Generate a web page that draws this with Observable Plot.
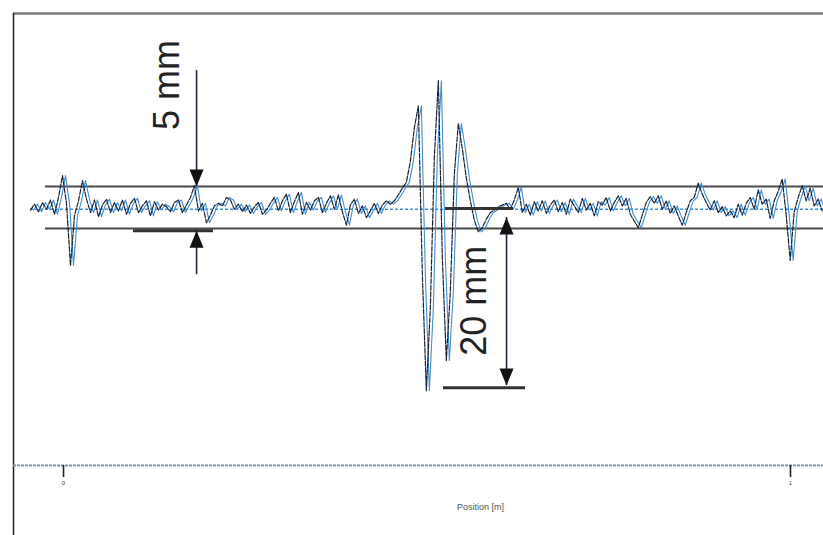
<!DOCTYPE html>
<html>
<head>
<meta charset="utf-8">
<script src="https://cdn.jsdelivr.net/npm/d3@7"></script>
<script src="https://cdn.jsdelivr.net/npm/@observablehq/plot@0.6"></script>
<style>
  html, body { margin: 0; padding: 0; background: #fff; }
  svg { display: block; }
</style>
</head>
<body>
<div id="chart"></div>
<script>
// ---- data (position in m, deviation in mm) ----
const sampleStart = -0.0454;   // m, first sample
const sampleStep = 0.0055;     // m, sample spacing
const deviation = [
  -0.3, 0.4, -0.5, 0.6, -0.2, 0.9, -0.8, 1.2, 3.8, 0.5,
  -6.9, -1.0, 0.8, 3.2, 1.0, -0.6, 0.9, -1.1, 0.3, 1.0,
  -0.6, 0.6, -0.4, 0.9, -0.8, 0.5, 1.1, -0.6, 0.2, 0.8,
  -1.0, 0.7, -0.3, 0.4, 0.1, -0.5, 0.6, 0.9, -0.6, 0.3,
  1.2, 2.6, -0.4, 0.5, -1.8, -0.9, 0.2, 0.5, 0.2, 1.2,
  0.9, -0.2, 0.4, -0.5, 0.3, -0.7, 0.1, 0.6, -0.8, -0.3,
  0.5, 1.2, -0.4, 0.8, 1.6, -0.6, 0.7, 1.8, -0.8, 0.6,
  -0.3, 0.8, 1.2, -0.6, 0.5, 1.4, -0.2, 1.5, -0.5, -2.1,
  0.3, 1.0, -0.7, 0.2, -1.2, -0.4, 0.5, -0.7, 0.3, 0.8,
  0.4, 0.8, 1.5, 2.3, 3.0, 5.5, 9.5, 12.1, -8.0, -21.8,
  -12.0, 6.0, 15.1, -6.0, -18.2, -10.0, 4.0, 10.0, 7.0, 3.5,
  0.8, -1.5, -2.9, -2.4, -1.4, -0.6, -0.3, 0.1, 0.3, 0.5,
  -0.2, 0.9, 2.4, -0.6, 0.4, -0.9, 0.7, -0.4, 0.8, -0.7,
  0.3, 0.9, -0.5, 0.6, -0.8, 1.0, 0.2, -0.6, 1.1, -0.3,
  0.5, -1.0, 0.7, 0.3, 1.2, -0.4, 0.6, 1.4, 0.2, 1.1,
  -0.8, -1.6, -2.4, -0.9, 0.6, 1.3, 0.5, 1.4, -0.2, 0.8,
  -0.7, 0.2, -1.0, -2.1, -0.6, 0.8, 1.2, 2.9, 1.6, 0.6,
  -0.3, 0.8, -0.6, 0.1, -1.0, -0.4, -1.2, 0.4, -0.9, 0.5,
  1.2, -0.2, 2.1, 0.4, 1.0, -1.3, 0.8, 1.9, 3.4, -0.9,
  -6.3, -0.5, 1.2, 2.6, 0.8, 2.3, 0.2, 1.0, -0.4
];

const xTicks = [0, 1];
const xTickLabels = ["0", "1"];
const xLabel = "Position [m]";

// tolerance band (mm) and reference level
const bandLevels = [2.5, -2.5];
const bandStart = -0.0248;
const referenceLevel = -0.2;

// view extents
const xDomain = [-0.0688, 1.0454];
const yDomain = [-30.71, 23.1];
const frameBottom = -39.05;

// annotations (data units)
const dimLabels = [
  {text: "5 mm", x: 0.1431, y: 14.6},
  {text: "20 mm", x: 0.5653, y: -11.1}
];
const dimLines = [
  {x: 0.183, y1: 16.3, y2: 2.5},
  {x: 0.183, y1: -8.0, y2: -2.7},
  {x: 0.6094, y1: -1.19, y2: -21.19}
];
const dimHeads = [
  {x: 0.183, y: 2.5, dir: 180},
  {x: 0.183, y: -2.75, dir: 0},
  {x: 0.6094, y: -1.19, dir: 0},
  {x: 0.6094, y: -21.19, dir: 180}
];
const dimBars = [
  {x1: 0.0963, x2: 0.2063, y: -2.75},
  {x1: 0.5254, x2: 0.6190, y: -0.1},
  {x1: 0.5227, x2: 0.6355, y: -21.45}
];

// ---- build ----
const signal = deviation.map((v, i) => ({pos: sampleStart + i * sampleStep, dev: v}));

const headSymbol = {
  draw(ctx) {
    ctx.moveTo(0, 0);
    ctx.lineTo(-7, 17);
    ctx.lineTo(7, 17);
    ctx.closePath();
  }
};

const chart = Plot.plot({
  width: 823,
  height: 535,
  marginTop: 13,
  marginBottom: 70,
  marginLeft: 13,
  marginRight: 0,
  style: {background: "#fff", fontFamily: "Liberation Sans, Arial, sans-serif"},
  x: {domain: xDomain},
  y: {domain: yDomain, axis: null},
  marks: [
    // frame
    Plot.ruleY([yDomain[1]], {x1: xDomain[0], x2: xDomain[1], stroke: "#7a7a7a", strokeWidth: 2.5}),
    Plot.ruleX([xDomain[0]], {y1: yDomain[1], y2: frameBottom, stroke: "#222", strokeWidth: 1.5}),
    // bottom axis line
    Plot.ruleY([yDomain[0]], {x1: xDomain[0], x2: xDomain[1], stroke: "#7f93ad", strokeWidth: 2, strokeDasharray: "3,1"}),
    Plot.axisX({
      ticks: xTicks,
      tickFormat: (d, i) => xTickLabels[i],
      tickSize: 12,
      tickPadding: 3,
      fontSize: 6,
      stroke: "#222",
      strokeWidth: 1.6,
      fill: "#444",
      label: null
    }),
    Plot.text([xLabel], {x: 0.5736, y: -35.7, fontSize: 9, fill: "#555"}),
    // tolerance band
    Plot.ruleY(bandLevels, {x1: bandStart, x2: xDomain[1], stroke: "#4a4a4a", strokeWidth: 2}),
    // reference level
    Plot.ruleY([referenceLevel], {x1: sampleStart, x2: xDomain[1], stroke: "#3d8ee0", strokeWidth: 1.6, strokeDasharray: "3,2"}),
    // signal traces
    Plot.line(signal, {x: "pos", y: "dev", stroke: "#3d8ee0", strokeWidth: 1.1, dx: 3}),
    Plot.line(signal, {x: "pos", y: "dev", stroke: "#1b2030", strokeWidth: 1.2, strokeDasharray: "5,1.5"}),
    // dimension annotations
    Plot.ruleY(dimBars, {x1: "x1", x2: "x2", y: "y", stroke: "#333", strokeWidth: 3}),
    Plot.ruleX(dimLines, {x: "x", y1: "y1", y2: "y2", stroke: "#1e2840", strokeWidth: 1.6}),
    Plot.dot(dimHeads, {x: "x", y: "y", rotate: "dir", symbol: headSymbol, fill: "#111", stroke: "none"}),
    Plot.text(dimLabels, {x: "x", y: "y", text: "text", rotate: -90, fontSize: 36, fill: "#222"})
  ]
});

document.getElementById("chart").appendChild(chart);
</script>
</body>
</html>
